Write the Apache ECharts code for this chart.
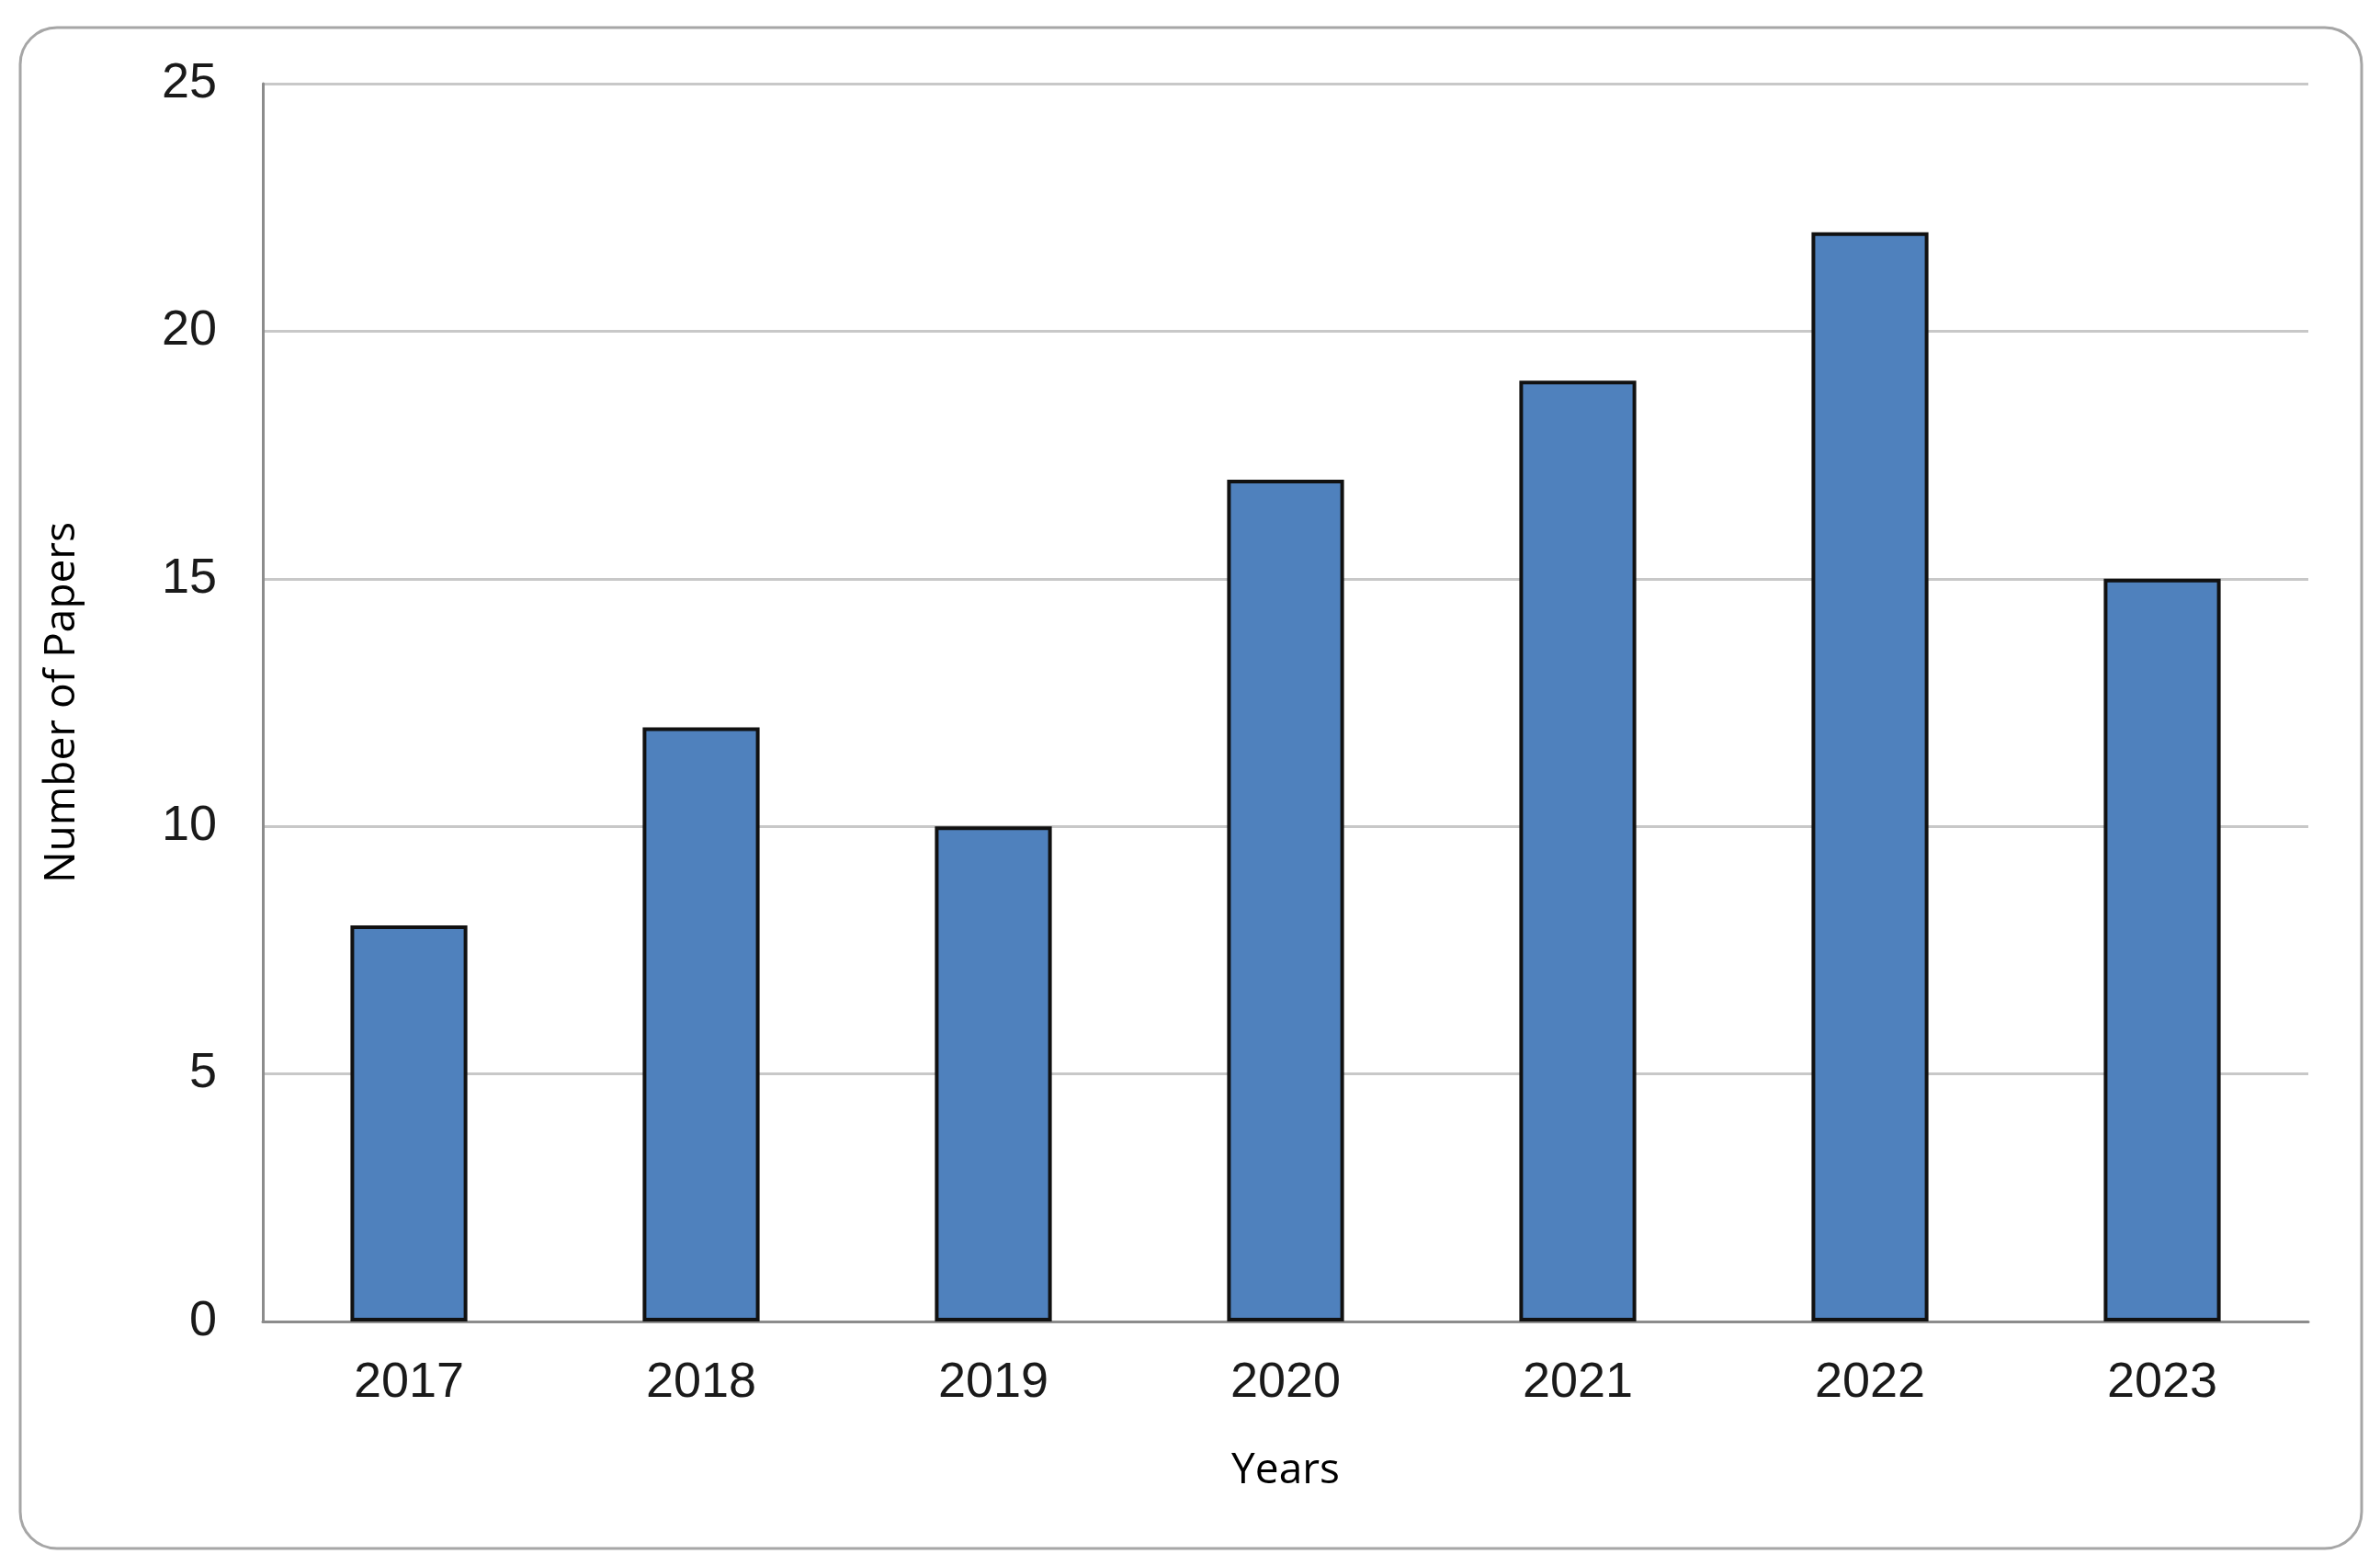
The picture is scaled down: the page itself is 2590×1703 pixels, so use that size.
<!DOCTYPE html>
<html>
<head>
<meta charset="utf-8">
<script src="https://cdn.jsdelivr.net/npm/echarts@6/dist/echarts.min.js"></script>
<style>
  html, body { margin: 0; padding: 0; background: #fff; }
  #chart { width: 2590px; height: 1703px; }
</style>
</head>
<body>
<div id="chart"></div>
<script>
var years = ['2017', '2018', '2019', '2020', '2021', '2022', '2023'];
var papers = [8, 12, 10, 17, 19, 22, 15];
var yTicks = [0, 5, 10, 15, 20, 25];

var chart = echarts.init(document.getElementById('chart'));

var option = {
  backgroundColor: '#fff',
  animation: false,
  graphic: [{
    type: 'rect',
    shape: { x: 22, y: 30, width: 2548, height: 1655, r: 40 },
    style: { fill: 'none', stroke: '#a6a6a6', lineWidth: 3 },
    z: -1
  }],
  grid: { left: 286, right: 78, top: 91, bottom: 265 },
  xAxis: {
    type: 'category',
    data: years,
    name: 'Years',
    nameLocation: 'middle',
    nameGap: 140,
    nameTextStyle: { fontFamily: 'Open Sans', fontSize: 46, color: '#000' },
    axisLine: { lineStyle: { color: '#8c8c8c', width: 3 } },
    axisTick: { show: false },
    axisLabel: { fontFamily: 'Liberation Sans', fontSize: 54, color: '#1a1a1a', margin: 40 }
  },
  yAxis: {
    type: 'value',
    min: 0,
    max: 25,
    interval: 5,
    name: 'Number of Papers',
    nameLocation: 'middle',
    nameGap: 195,
    nameTextStyle: { fontFamily: 'Open Sans', fontSize: 46, color: '#000' },
    axisLine: { show: true, lineStyle: { color: '#8c8c8c', width: 3 } },
    axisTick: { show: false },
    axisLabel: {
      fontFamily: 'Liberation Sans', fontSize: 54, color: '#1a1a1a', margin: 50,
      formatter: function (v) { return yTicks.indexOf(v) >= 0 ? String(v) : ''; }
    },
    splitLine: { lineStyle: { color: '#c8c8c8', width: 3 } }
  },
  series: [{
    type: 'bar',
    data: papers,
    barWidth: '40%',
    itemStyle: { color: '#4F81BD', borderColor: '#111', borderWidth: 4 }
  }]
};

chart.setOption(option);
</script>
</body>
</html>
